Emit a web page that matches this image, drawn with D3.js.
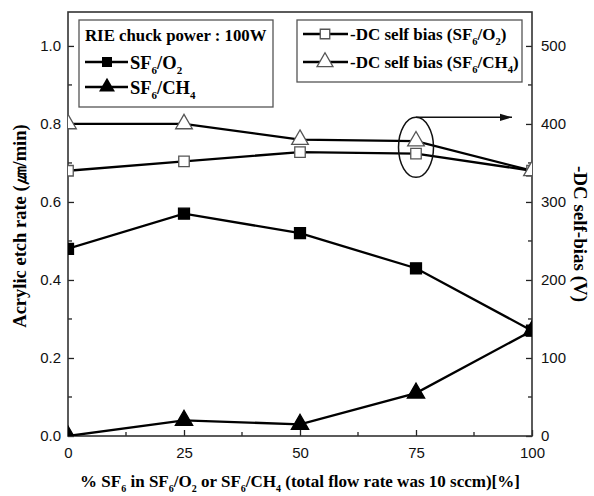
<!DOCTYPE html>
<html>
<head>
<meta charset="utf-8">
<script src="https://cdn.jsdelivr.net/npm/d3@7"></script>
<style>
  body { margin: 0; background: #fff; }
  .tick text { font-family: "Liberation Sans", Arial, sans-serif; font-size: 15px; }
  .serif { font-family: "Liberation Serif", "Times New Roman", serif; font-weight: bold; }
</style>
</head>
<body>
<div id="viz"></div>
<script>
// data
var sfPercent = [0, 25, 50, 75, 100];
var etchO2 = [0.48, 0.57, 0.52, 0.43, 0.27];
var etchCH4 = [0.0, 0.04, 0.03, 0.11, 0.27];
var biasO2 = [340, 352, 364, 362, 340];
var biasCH4 = [400, 400, 380, 378, 340];
var xTicks = [0, 25, 50, 75, 100];
var leftTicks = [0, 0.2, 0.4, 0.6, 0.8, 1.0];
var rightTicks = [0, 100, 200, 300, 400, 500];

var w = 594, h = 496;
var m = {left: 68, right: 62, top: 12, bottom: 60};

var svg = d3.select("#viz").append("svg")
  .attr("width", w)
  .attr("height", h);

var x = d3.scaleLinear().domain([0, 100]).range([m.left, w - m.right]);
var yL = d3.scaleLinear().domain([0, 1.087]).range([h - m.bottom, m.top]);
var yR = d3.scaleLinear().domain([0, 543.5]).range([h - m.bottom, m.top]);

var x0 = m.left, x1 = w - m.right, y0 = h - m.bottom, y1 = m.top;

svg.append("clipPath").attr("id", "plotclip")
  .append("rect").attr("x", x0).attr("y", y1).attr("width", x1 - x0).attr("height", y0 - y1);

// minor ticks (inward)
var g = svg.append("g").attr("stroke", "#222").attr("stroke-width", 1.3);
d3.range(12.5, 100, 25).forEach(function(v) {
  g.append("line").attr("x1", x(v)).attr("x2", x(v)).attr("y1", y0).attr("y2", y0 - 4);
});
d3.range(0.1, 1.05, 0.2).forEach(function(v) {
  g.append("line").attr("x1", x0).attr("x2", x0 + 4).attr("y1", yL(v)).attr("y2", yL(v));
});
d3.range(50, 550, 100).forEach(function(v) {
  g.append("line").attr("x1", x1).attr("x2", x1 - 4).attr("y1", yR(v)).attr("y2", yR(v));
});

// axes
var xAxis = svg.append("g").attr("transform", "translate(0," + y0 + ")")
  .call(d3.axisBottom(x).tickValues(xTicks).tickSize(-6).tickPadding(11).tickFormat(d3.format("d")));
var lAxis = svg.append("g").attr("transform", "translate(" + x0 + ",0)")
  .call(d3.axisLeft(yL).tickValues(leftTicks).tickSize(-6).tickPadding(7).tickFormat(d3.format(".1f")));
var rAxis = svg.append("g").attr("transform", "translate(" + x1 + ",0)")
  .call(d3.axisRight(yR).tickValues(rightTicks).tickSize(-6).tickPadding(9).tickFormat(d3.format("d")));
[xAxis, lAxis, rAxis].forEach(function(a) {
  a.select(".domain").remove();
  a.selectAll(".tick line").attr("stroke", "#222").attr("stroke-width", 1.3);
  a.selectAll(".tick text").attr("fill", "#111");
});

// frame
svg.append("rect").attr("x", x0).attr("y", y1).attr("width", x1 - x0).attr("height", y0 - y1)
  .attr("fill", "none").attr("stroke", "#333").attr("stroke-width", 1.6);

var plot = svg.append("g").attr("clip-path", "url(#plotclip)");

function series(vals) {
  return sfPercent.map(function(p, i) { return {x: p, y: vals[i]}; });
}

var allSeries = [
  {d: series(biasO2), y: yR, shape: d3.symbolSquare, fill: "#fff", size: 110},
  {d: series(biasCH4), y: yR, shape: d3.symbolTriangle, fill: "#fff", size: 120},
  {d: series(etchO2), y: yL, shape: d3.symbolSquare, fill: "#000", size: 120},
  {d: series(etchCH4), y: yL, shape: d3.symbolTriangle, fill: "#000", size: 130}
];

allSeries.forEach(function(s) {
  var line = d3.line().x(function(d) { return x(d.x); }).y(function(d) { return s.y(d.y); });
  plot.append("path").datum(s.d).attr("d", line)
    .attr("fill", "none").attr("stroke", "#000").attr("stroke-width", 2.3);
});
allSeries.forEach(function(s) {
  plot.selectAll(null).data(s.d).enter().append("path")
    .attr("transform", function(d) { return "translate(" + x(d.x) + "," + s.y(d.y) + ")"; })
    .attr("d", d3.symbol().type(s.shape).size(s.size))
    .attr("fill", s.fill)
    .attr("stroke", s.fill == "#fff" ? "#555" : "#000")
    .attr("stroke-width", 1.3);
});

// ellipse + arrow at 75%
var ex = x(75), ey = (yR(biasO2[3]) + yR(biasCH4[3])) / 2;
svg.append("ellipse").attr("cx", ex).attr("cy", ey).attr("rx", 17.5).attr("ry", 30)
  .attr("fill", "none").attr("stroke", "#111").attr("stroke-width", 1.5);
svg.append("defs").append("marker").attr("id", "arr")
  .attr("viewBox", "0 0 10 10").attr("refX", 10).attr("refY", 5)
  .attr("markerWidth", 8).attr("markerHeight", 8).attr("orient", "auto")
  .append("path").attr("d", "M0,2 L10,5 L0,8 Z").attr("fill", "#111");
svg.append("line").attr("x1", ex).attr("y1", ey - 30).attr("x2", x1 - 20).attr("y2", ey - 30)
  .attr("stroke", "#111").attr("stroke-width", 1.5).attr("marker-end", "url(#arr)");

function subText(t, parts, big, small) {
  parts.forEach(function(p) {
    t.append("tspan").attr("font-size", p[1] ? small : big)
      .attr("baseline-shift", p[1] ? "-45%" : null)
      .text(p[0]);
  });
}

// legend 1
var lg1 = svg.append("g");
lg1.append("rect").attr("x", 79).attr("y", 20).attr("width", 194).attr("height", 87)
  .attr("fill", "#fff").attr("stroke", "#555").attr("stroke-width", 1.3);
lg1.append("text").attr("class", "serif").attr("x", 85).attr("y", 41).attr("font-size", 16.8)
  .text("RIE chuck power : 100W");
var rows1 = [
  {y: 62, shape: d3.symbolSquare, size: 100, parts: [["SF", 0], ["6", 1], ["/O", 0], ["2", 1]]},
  {y: 87, shape: d3.symbolTriangle, size: 110, parts: [["SF", 0], ["6", 1], ["/CH", 0], ["4", 1]]}
];
rows1.forEach(function(r) {
  lg1.append("line").attr("x1", 85).attr("x2", 128).attr("y1", r.y).attr("y2", r.y)
    .attr("stroke", "#000").attr("stroke-width", 2.3);
  lg1.append("path").attr("transform", "translate(107," + r.y + ")")
    .attr("d", d3.symbol().type(r.shape).size(r.size)).attr("fill", "#000");
  var t = lg1.append("text").attr("class", "serif").attr("x", 130).attr("y", r.y + 7);
  subText(t, r.parts, 18.5, 11);
});

// legend 2
var lg2 = svg.append("g");
lg2.append("rect").attr("x", 297).attr("y", 20).attr("width", 225).attr("height", 62)
  .attr("fill", "#fff").attr("stroke", "#555").attr("stroke-width", 1.3);
var rows2 = [
  {y: 34, shape: d3.symbolSquare, size: 90, parts: [["-DC self bias (SF", 0], ["6", 1], ["/O", 0], ["2", 1], [")", 0]]},
  {y: 62, shape: d3.symbolTriangle, size: 110, parts: [["-DC self bias (SF", 0], ["6", 1], ["/CH", 0], ["4", 1], [")", 0]]}
];
rows2.forEach(function(r) {
  lg2.append("line").attr("x1", 303).attr("x2", 348).attr("y1", r.y).attr("y2", r.y)
    .attr("stroke", "#000").attr("stroke-width", 2.3);
  lg2.append("path").attr("transform", "translate(325," + r.y + ")")
    .attr("d", d3.symbol().type(r.shape).size(r.size)).attr("fill", "#fff")
    .attr("stroke", "#555").attr("stroke-width", 1.3);
  var t = lg2.append("text").attr("class", "serif").attr("x", 350).attr("y", r.y + 6);
  subText(t, r.parts, 17, 10.5);
});

// axis titles
svg.append("text").attr("class", "serif").attr("font-size", 18.5)
  .attr("transform", "translate(26," + 226 + ") rotate(-90)")
  .attr("text-anchor", "middle")
  .text("Acrylic etch rate (㎛/min)");
svg.append("text").attr("class", "serif").attr("font-size", 19)
  .attr("transform", "translate(574," + 234 + ") rotate(90)")
  .attr("text-anchor", "middle")
  .text("-DC self-bias (V)");
var xt = svg.append("text").attr("class", "serif").attr("x", 300).attr("y", 487)
  .attr("text-anchor", "middle");
subText(xt, [["% SF", 0], ["6", 1], [" in SF", 0], ["6", 1], ["/O", 0], ["2", 1], [" or SF", 0], ["6", 1], ["/CH", 0], ["4", 1],
  [" (total flow rate was 10 sccm)[%]", 0]], 17, 10);
</script>
</body>
</html>
